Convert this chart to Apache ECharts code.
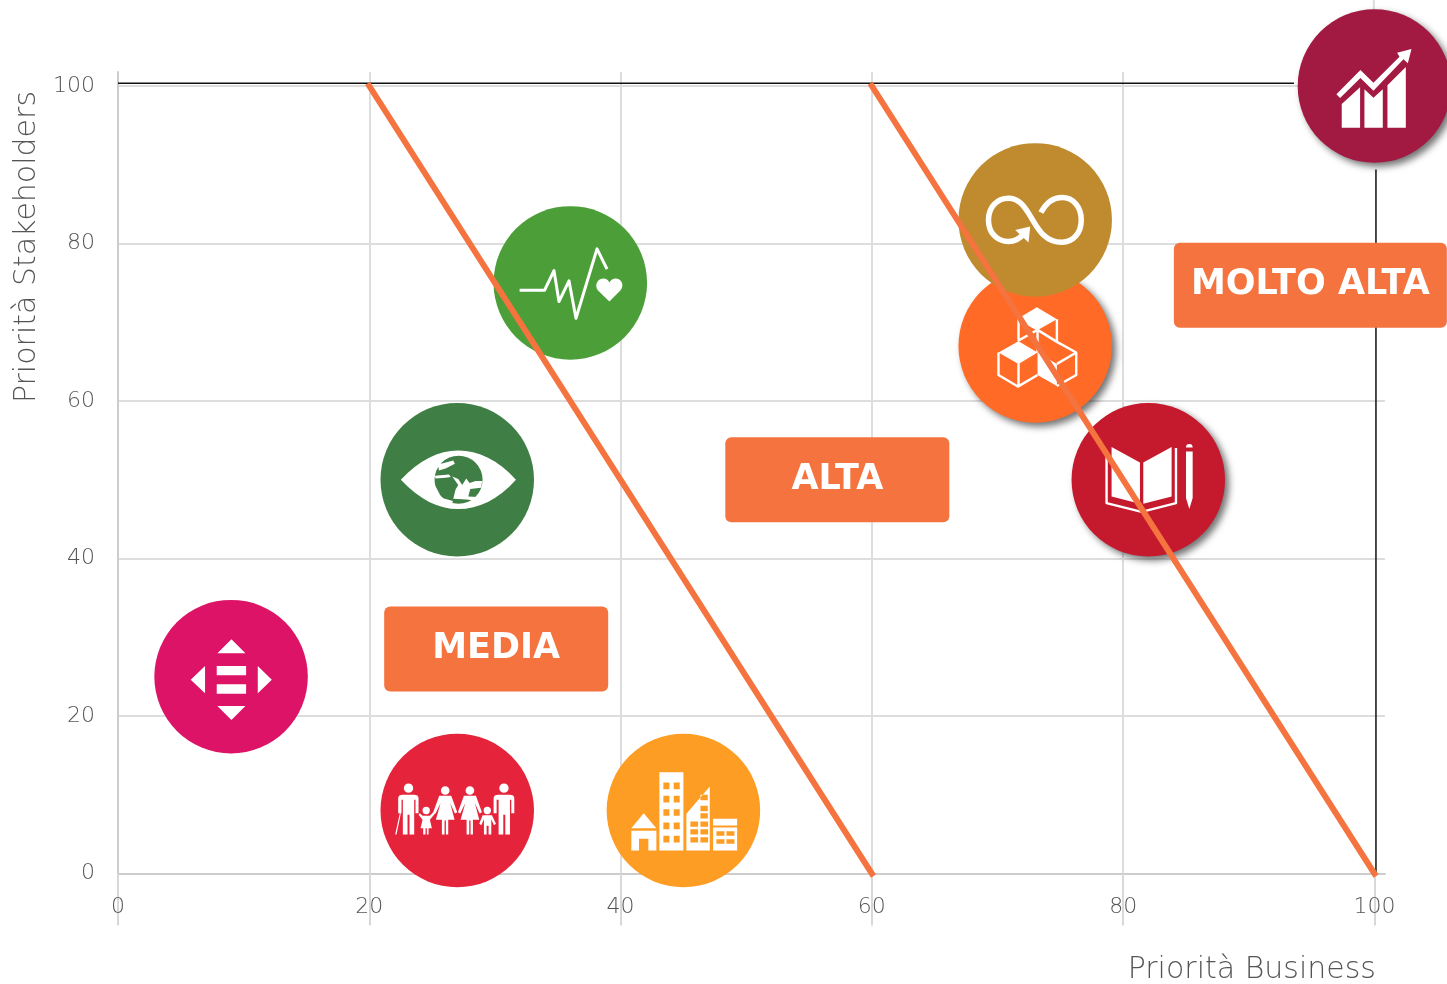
<!DOCTYPE html>
<html>
<head>
<meta charset="utf-8">
<style>html,body{margin:0;padding:0;background:#fff;overflow:hidden}#c{width:1447px;height:984px}</style>
<script src="https://cdn.jsdelivr.net/npm/echarts@6/dist/echarts.min.js"></script>
</head>
<body>
<div id="c"></div>
<script>
const xTicks = [0, 20, 40, 60, 80, 100];
const yTicks = [0, 20, 40, 60, 80, 100];
const xName = 'Priorità Business';
const yName = 'Priorità Stakeholders';
const goalNames = ['Goal 10', 'Goal 16', 'Goal 5', 'Goal 11', 'Goal 3', 'Goal 12', 'Goal 13', 'Goal 4', 'Goal 8'];
const goalX = [9, 27, 27, 45, 36, 73, 73, 82, 100];
const goalY = [25, 50, 8, 8, 75, 67, 83, 50, 100];
const goalColors = ['#DD1367', '#3F7E44', '#E5243B', '#FD9D24', '#4C9F38', '#FF6B27', '#BF8B2E', '#C5192D', '#A21942'];
const goalShadow = [false, false, false, false, false, true, false, true, true];
const zoneLabels = ['MEDIA', 'ALTA', 'MOLTO ALTA'];
const zoneX = [30.1, 57.25, 94.9];
const zoneY = [28.5, 50, 74.7];
const zoneColor = '#F4733E';
const dividerA = [[20, 100], [60, 0]];
const dividerB = [[60, 100], [100, 0]];
const borderTop = [[0, 100.34], [93.6, 100.34]];
const borderRight = [[100.12, 0], [100.12, 89.4]];
const stubTop = [[99.95, 111], [99.95, 99]];

const hole = (x, y, w, h) => `M${x} ${y}V${y + h}H${x + w}V${y}Z`;
const disc = (cx, cy, r) => `M${cx - r} ${cy}A${r} ${r} 0 1 1 ${cx + r} ${cy}A${r} ${r} 0 1 1 ${cx - r} ${cy}Z`;
const frame = (x, y) => `M${x} ${y}L${x} ${y}M${x + 460} ${y + 460}L${x + 460} ${y + 460}`;

function windows(xs, ys, w, h) {
  let s = '';
  xs.forEach(x => ys.forEach(y => { s += hole(x, y, w, h); }));
  return s;
}
const woman = dx => disc(226 + dx, 182, 13) +
  `M${208 + dx} 198H${244 + dx}L${262 + dx} 247L${255 + dx} 251L${241 + dx} 220L${254 + dx} 270H${235 + dx}V314H${228 + dx}V272H${224 + dx}V314H${216 + dx}V270H${198 + dx}L${212 + dx} 220L${197 + dx} 251L${190 + dx} 247Z`;

const iconFill = [
  frame(464, 30) + 'M695 148L737 190H653Z M653 348H737L695 390Z M616 228V310L573 269Z M774 228L816 269L774 310Z M651 228H739V256H651Z M651 283H739V311H651Z',
  frame(32, 610) + 'M93 840C150 780 205 752 265 752C325 752 385 780 438 840C385 900 325 928 265 928C205 928 150 900 93 840Z' +
    'M338 840A72 72 0 1 0 194 840A72 72 0 1 0 338 840Z' +
    'M205 794L250 782L255 792L227 806L207 812Z M195 828L237 824L243 832L227 834L197 836Z' +
    'M247 830L265 838L277 856L289 836L299 850L317 844L337 844L333 864L301 868L295 890L323 892L333 874L337 878L323 904L290 899L250 897L257 869L265 856Z' +
    'M195 856L215 894L249 904L245 919L215 909L190 874Z',
  frame(32, 12) + disc(116, 175, 14) + 'M85 205Q85 195 100 195H132Q146 195 146 205V250H137V210H133V314H119V255H113V314H99V210H95V250H85Z M76 314L90 250L93 251L80 314Z' +
    disc(169, 242, 11) + 'M150 250L158 258H180L192 245L196 250L180 270L186 295H176V314H171V295H167V314H160V295H152L158 270L146 255Z' +
    woman(0) + woman(74) +
    disc(352, 242, 11) + 'M338 256H366L378 282L372 286L364 268V314H356V288H350V314H342V268L334 286L328 282Z' +
    disc(402, 175, 14) + 'M371 205Q371 195 386 195H418Q433 195 433 205V250H424V210H420V314H406V255H400V314H386V210H380V250H371Z',
  frame(711, 12) + 'M822 250L860 295H785Z M785 303H860V362H785Z' + hole(808, 327, 28, 35) +
    'M869 127H941V362H869Z' + windows([881, 912], [158, 198, 238, 278, 318], 18, 20) +
    'M950 252L1020 170V362H950Z' + windows([992], [195, 228, 250], 22, 16) + windows([962, 992], [275, 298, 322], 23, 16) +
    'M1030 267H1102V287H1030Z M1030 293H1102V362H1030Z' + windows([1040, 1070], [304, 328], 24, 14),
  frame(372, 19) + 'M719 305L685 272C672 255 685 235 703 236C712 237 717 243 719 248C722 243 727 237 736 236C754 235 766 255 752 272Z',
  frame(25, 418) + 'M260 532L320 568L260 602L200 568Z M205 634L262 668L205 702L145 668Z M262 668L320 702V768L262 735Z',
  frame(25, 40) + 'M195 300L240 290L235 338Z',
  frame(365, 820) + 'M485 952L570 998V1122L485 1100Z M580 998L665 952V1100L580 1122Z M708 965H728V1105L718 1138L708 1105Z M708 953A10 10 0 0 1 728 953Z',
  frame(413, 28) + 'M545 312L600 262V383H545Z M613 268L640 293L668 268V383H613Z M682 256L737 201V383H682Z M529 283L601 210L640 248L718 170L711 158L754 147L743 190L730 178L640 272L601 234L540 294Z'
];
const iconStroke = [
  null, null, null, null,
  frame(372, 19) + 'M450 271H525L553 212L568 305L598 243L619 355L682 147L712 208',
  frame(25, 418) + 'M205 568V632L262 600M320 568V636L262 600M320 636L378 668V735L320 768M378 668L320 702M145 668V735L203 770L262 735M205 700V770M262 600V668',
  frame(25, 40) + 'M272 248C290 215 315 203 335 203C370 203 393 232 393 270C393 308 370 337 335 337C280 337 260 290 240 258C222 228 205 205 175 205C140 205 115 232 115 270C115 308 140 335 175 335C195 335 210 325 225 308',
  frame(365, 820) + 'M470 962V1120L575 1146L678 1120V955',
  null
];
const strokeWidth = [0, 0, 0, 0, 3, 2.4, 5.5, 2.4, 0];

const H = 85;
const rrect = w => `path://M6 0H${w - 6}A6 6 0 0 1 ${w} 6V${H - 6}A6 6 0 0 1 ${w - 6} ${H}H6A6 6 0 0 1 0 ${H - 6}V6A6 6 0 0 1 6 0Z`;
const zoneWidths = [224, 224, 273];

const FONT = '"DejaVu Sans"';
const GREY = '#555555';
const order = [0, 1, 2, 3, 4, 5, 6, 7, 8];

const chart = echarts.init(document.getElementById('c'), null, {renderer: 'canvas'});
const lineSeries = (name, data, color, width, z, cap) => ({
  name, type: 'line', data, showSymbol: false, symbol: 'none', clip: false, silent: true, z,
  lineStyle: {color, width, cap: cap || 'butt'}
});
chart.setOption({
  animation: false,
  backgroundColor: '#ffffff',
  grid: {left: 118, right: 62, top: 72, bottom: 110.5, outerBoundsMode: 'none'},
  xAxis: {
    type: 'value', min: 0, max: 100.84, interval: 20,
    name: xName, nameLocation: 'end', nameGap: -9, nameMoveOverlap: false,
    nameTextStyle: {fontFamily: FONT, fontWeight: 200, fontSize: 30, color: GREY, align: 'right', verticalAlign: 'top', padding: [82, 0, 0, 0]},
    axisLine: {show: true, onZero: false, lineStyle: {color: '#cccccc', width: 2}},
    axisTick: {show: true, length: 52, customValues: xTicks, lineStyle: {color: '#d8d8d8', width: 2}},
    axisLabel: {customValues: xTicks, margin: 23, fontFamily: FONT, fontWeight: 200, fontSize: 22, color: GREY},
    splitLine: {show: true, showMaxLine: false, lineStyle: {color: '#dddddd', width: 2}}
  },
  yAxis: {
    type: 'value', min: 0, max: 101.78, interval: 20,
    name: yName, nameLocation: 'end', nameRotate: 90, nameGap: -175, nameMoveOverlap: false,
    nameTextStyle: {fontFamily: FONT, fontWeight: 200, fontSize: 30, color: GREY, align: 'center', verticalAlign: 'bottom', padding: [0, 0, 76, 0]},
    axisLine: {show: true, onZero: false, lineStyle: {color: '#cccccc', width: 2}},
    axisTick: {show: false},
    axisLabel: {customValues: yTicks, margin: 23, padding: [4, 0, 0, 0], fontFamily: FONT, fontWeight: 200, fontSize: 22, color: GREY},
    splitLine: {show: true, showMaxLine: false, lineStyle: {color: '#dddddd', width: 2}}
  },
  series: [
    lineSeries('Stub', stubTop, '#dddddd', 2, 1),
    lineSeries('Top border', borderTop, '#111111', 1.5, 1),
    lineSeries('Right border', borderRight, '#111111', 1.5, 1),
    {
      name: 'Goals', type: 'scatter', clip: false, silent: true, z: 3, symbol: 'circle', symbolSize: 153.5,
      data: order.map(i => ({
        name: goalNames[i], value: [goalX[i], goalY[i]],
        itemStyle: Object.assign({color: goalColors[i], opacity: 1}, goalShadow[i] ? {shadowColor: 'rgba(0,0,0,0.55)', shadowBlur: 7, shadowOffsetX: 4, shadowOffsetY: 4} : {})
      }))
    },
    {
      name: 'Icon fill', type: 'scatter', clip: false, silent: true, z: 4, symbolSize: 153.5,
      itemStyle: {color: '#ffffff', opacity: 1},
      data: order.map(i => ({value: [goalX[i], goalY[i]], symbol: 'path://' + iconFill[i]}))
    },
    {
      name: 'Icon stroke', type: 'scatter', clip: false, silent: true, z: 5, symbolSize: 153.5,
      data: order.filter(i => iconStroke[i]).map(i => ({
        value: [goalX[i], goalY[i]], symbol: 'path://' + iconStroke[i],
        itemStyle: {color: 'rgba(0,0,0,0)', borderColor: '#ffffff', borderWidth: strokeWidth[i], opacity: 1, borderJoin: 'round'}
      }))
    },
    {
      name: 'Zones', type: 'scatter', clip: false, silent: true, z: 6,
      itemStyle: {color: zoneColor, opacity: 1},
      label: {show: true, position: 'inside', formatter: p => p.name, fontFamily: FONT, fontWeight: 'bold', fontSize: 35, color: '#ffffff', offset: [0, 0]},
      data: zoneLabels.map((n, i) => ({
        name: n, value: [zoneX[i], zoneY[i]], symbol: rrect(zoneWidths[i]), symbolSize: [zoneWidths[i], H]
      }))
    },
    lineSeries('Divider A', dividerA, zoneColor, 6, 7, 'square'),
    lineSeries('Divider B', dividerB, zoneColor, 6, 7, 'square')
  ]
});
</script>
</body>
</html>
